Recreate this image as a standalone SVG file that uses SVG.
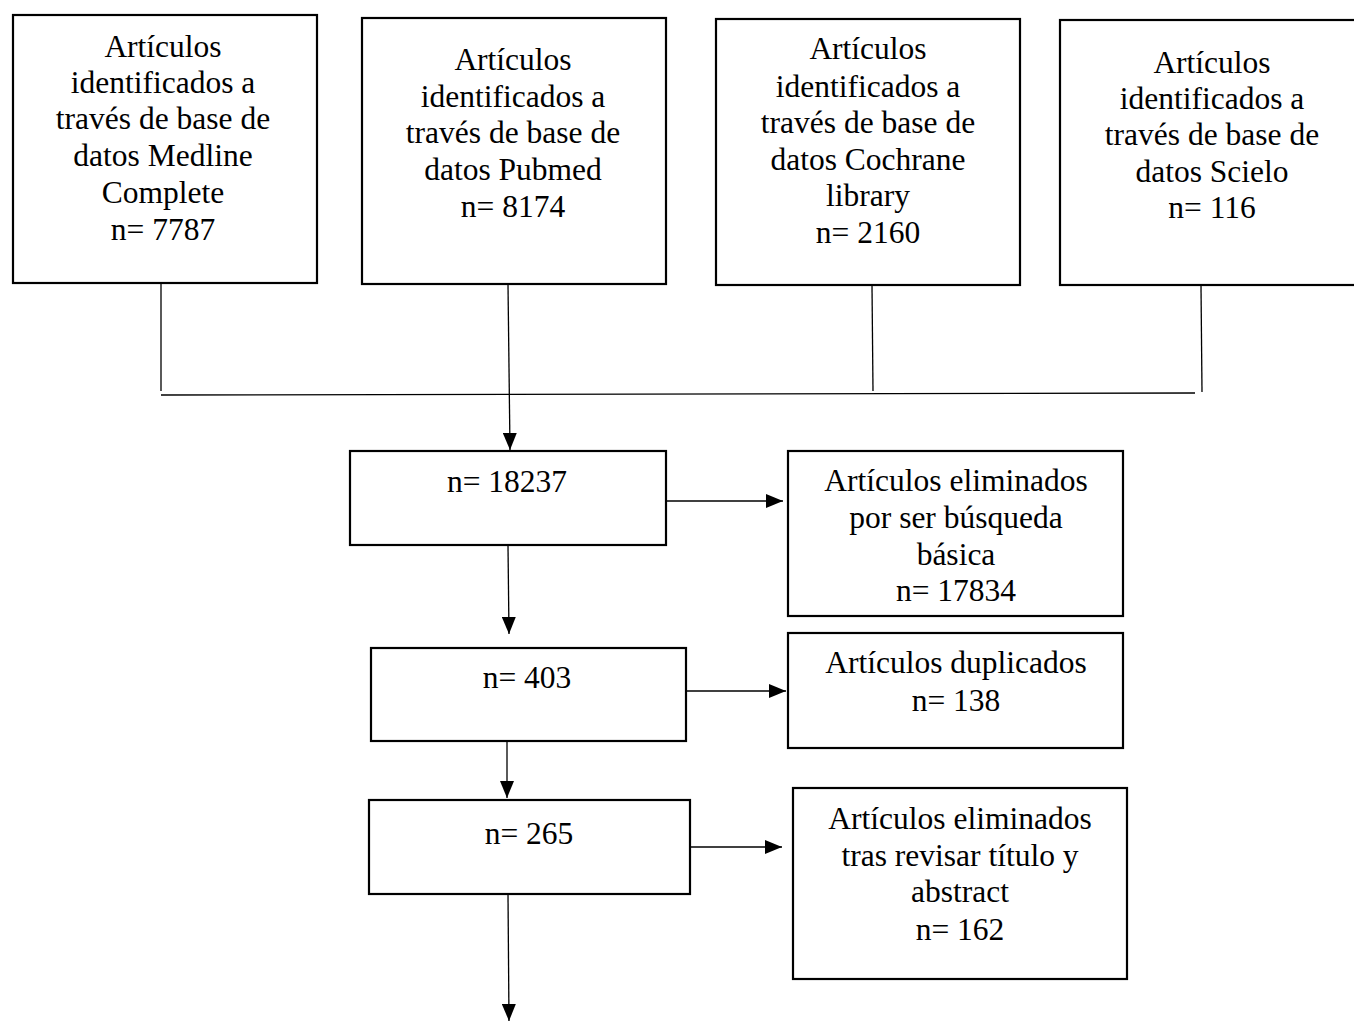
<svg xmlns="http://www.w3.org/2000/svg" width="1354" height="1021" viewBox="0 0 1354 1021">
<style>
.box{fill:#fff;stroke:#000;stroke-width:2.2}
.t{font-family:'Liberation Serif','Times New Roman','DejaVu Serif',serif;font-size:31.5px;fill:#000;text-anchor:middle}
.c{stroke:#000;stroke-width:1.3;fill:none}
</style>
<defs>
<marker id="ah" markerWidth="17" markerHeight="14" refX="17" refY="7" orient="auto" markerUnits="userSpaceOnUse">
<path d="M0,0 L17,7 L0,14 Z" fill="#000"/>
</marker>
</defs>
<rect width="1354" height="1021" fill="#fff"/>
<g id="connectors">
<line class="c" x1="161" y1="284" x2="161" y2="391"/>
<line class="c" x1="872" y1="286" x2="873" y2="391"/>
<line class="c" x1="1201" y1="286" x2="1202" y2="392"/>
<line class="c" x1="161" y1="395" x2="1195" y2="393"/>
<line class="c" x1="508" y1="285" x2="510" y2="450" marker-end="url(#ah)"/>
<line class="c" x1="666" y1="501" x2="783" y2="501" marker-end="url(#ah)"/>
<line class="c" x1="508" y1="546" x2="509" y2="634" marker-end="url(#ah)"/>
<line class="c" x1="686" y1="691" x2="786" y2="691" marker-end="url(#ah)"/>
<line class="c" x1="507" y1="738" x2="507" y2="798" marker-end="url(#ah)"/>
<line class="c" x1="690" y1="847" x2="782" y2="847" marker-end="url(#ah)"/>
<line class="c" x1="508" y1="895" x2="509" y2="1021" marker-end="url(#ah)"/>
</g>
<g font-family="Liberation Serif, Times New Roman, DejaVu Serif, serif">
<g id="medline">
<rect class="box" x="13" y="15" width="304" height="268"/>
<text class="t" x="163" y="57">Artículos</text>
<text class="t" x="163" y="93">identificados a</text>
<text class="t" x="163" y="129">través de base de</text>
<text class="t" x="163" y="166">datos Medline</text>
<text class="t" x="163" y="203">Complete</text>
<text class="t" x="163" y="240">n= 7787</text>
</g>
<g id="pubmed">
<rect class="box" x="362" y="18" width="304" height="266"/>
<text class="t" x="513" y="70">Artículos</text>
<text class="t" x="513" y="107">identificados a</text>
<text class="t" x="513" y="143">través de base de</text>
<text class="t" x="513" y="180">datos Pubmed</text>
<text class="t" x="513" y="217">n= 8174</text>
</g>
<g id="cochrane">
<rect class="box" x="716" y="19" width="304" height="266"/>
<text class="t" x="868" y="59">Artículos</text>
<text class="t" x="868" y="97">identificados a</text>
<text class="t" x="868" y="133">través de base de</text>
<text class="t" x="868" y="170">datos Cochrane</text>
<text class="t" x="868" y="206">library</text>
<text class="t" x="868" y="243">n= 2160</text>
</g>
<g id="scielo">
<rect class="box" x="1060" y="20" width="310" height="265"/>
<text class="t" x="1212" y="73">Artículos</text>
<text class="t" x="1212" y="109">identificados a</text>
<text class="t" x="1212" y="145">través de base de</text>
<text class="t" x="1212" y="182">datos Scielo</text>
<text class="t" x="1212" y="218">n= 116</text>
</g>
<g id="n18237">
<rect class="box" x="350" y="451" width="316" height="94"/>
<text class="t" x="507" y="492">n= 18237</text>
</g>
<g id="n17834">
<rect class="box" x="788" y="451" width="335" height="165"/>
<text class="t" x="956" y="491">Artículos eliminados</text>
<text class="t" x="956" y="528">por ser búsqueda</text>
<text class="t" x="956" y="565">básica</text>
<text class="t" x="956" y="601">n= 17834</text>
</g>
<g id="n403">
<rect class="box" x="371" y="648" width="315" height="93"/>
<text class="t" x="527" y="688">n= 403</text>
</g>
<g id="n138">
<rect class="box" x="788" y="633" width="335" height="115"/>
<text class="t" x="956" y="673">Artículos duplicados</text>
<text class="t" x="956" y="711">n= 138</text>
</g>
<g id="n265">
<rect class="box" x="369" y="800" width="321" height="94"/>
<text class="t" x="529" y="844">n= 265</text>
</g>
<g id="n162">
<rect class="box" x="793" y="788" width="334" height="191"/>
<text class="t" x="960" y="829">Artículos eliminados</text>
<text class="t" x="960" y="866">tras revisar título y</text>
<text class="t" x="960" y="902">abstract</text>
<text class="t" x="960" y="940">n= 162</text>
</g>
</g>
</svg>
